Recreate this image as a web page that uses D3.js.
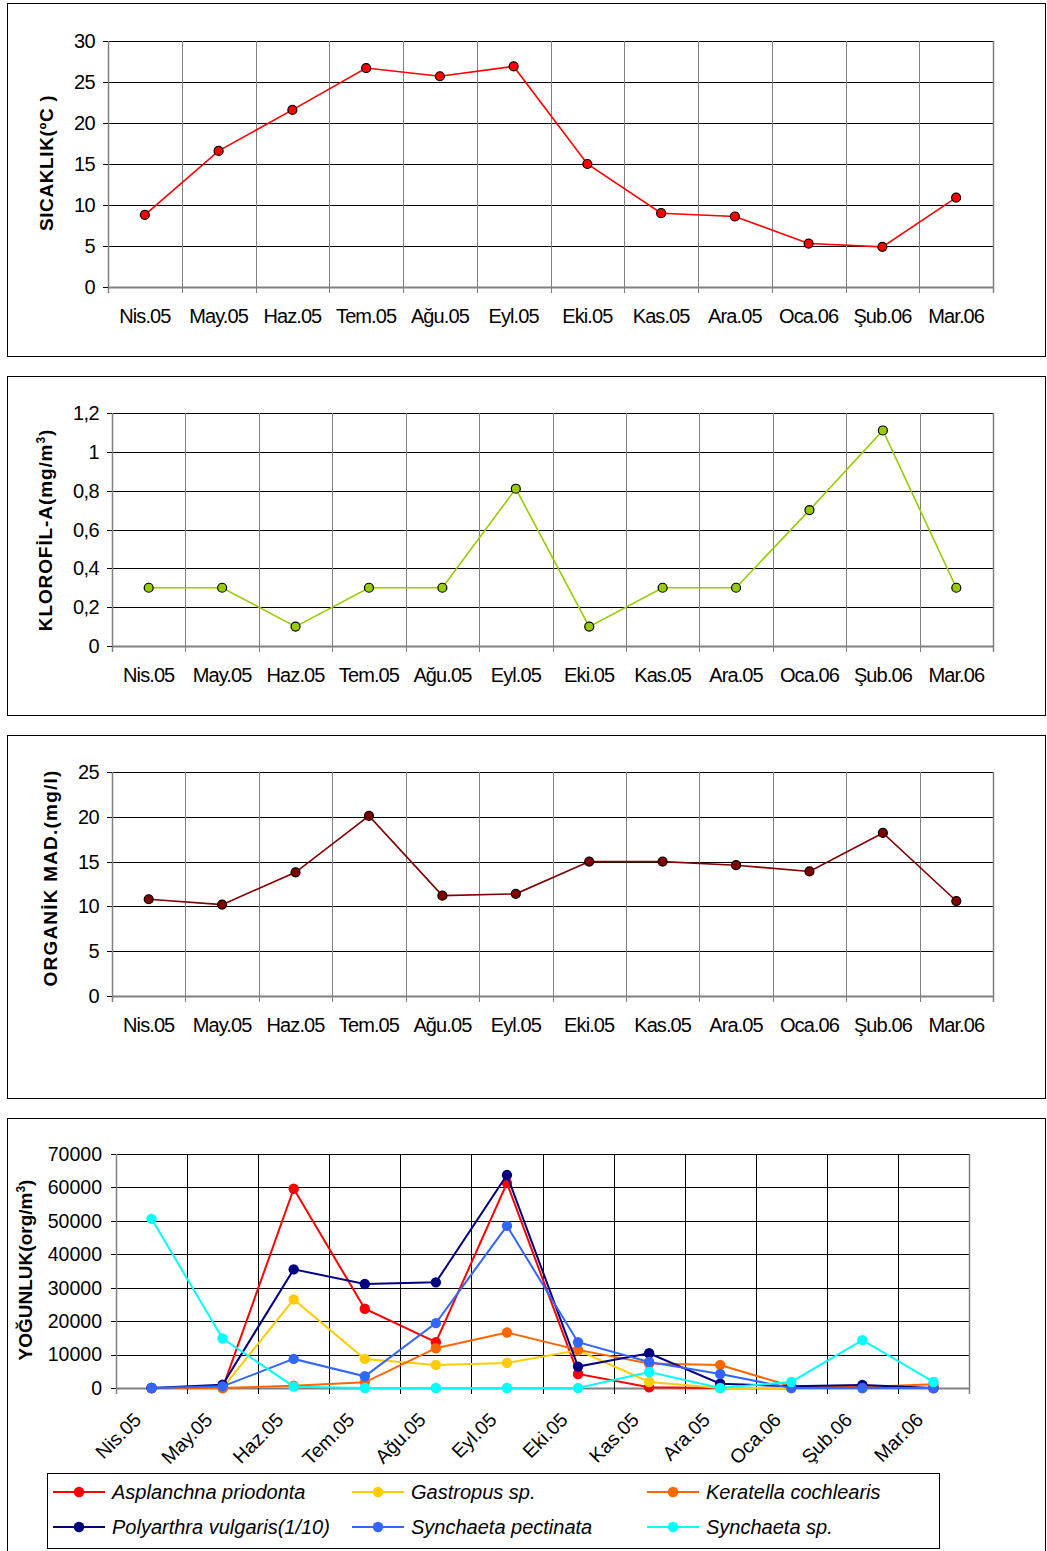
<!DOCTYPE html>
<html>
<head>
<meta charset="utf-8">
<script src="https://cdn.jsdelivr.net/npm/d3@7"></script>
<style>
  body { margin: 0; background: #fff; }
  svg { display: block; font-family: "Liberation Sans", Arial, sans-serif; }
</style>
</head>
<body>
<svg id="chart" width="1047" height="1551"></svg>
<script>
// Monthly water parameters and rotifer densities

const months = ["Nis.05", "May.05", "Haz.05", "Tem.05", "Ağu.05", "Eyl.05",
                "Eki.05", "Kas.05", "Ara.05", "Oca.06", "Şub.06", "Mar.06"];

const sicaklik = [8.8, 16.6, 21.6, 26.7, 25.7, 26.9, 15.0, 9.0, 8.6, 5.3, 4.9, 10.9];
const klorofil = [0.3, 0.3, 0.1, 0.3, 0.3, 0.81, 0.1, 0.3, 0.3, 0.7, 1.11, 0.3];
const organik = [10.8, 10.2, 13.8, 20.1, 11.2, 11.4, 15.0, 15.0, 14.6, 13.9, 18.2, 10.6];

const sicaklikTicks = [0, 5, 10, 15, 20, 25, 30];
const klorofilTicks = [0, 0.2, 0.4, 0.6, 0.8, 1, 1.2];
const organikTicks = [0, 5, 10, 15, 20, 25];
const yogunlukTicks = [0, 10000, 20000, 30000, 40000, 50000, 60000, 70000];

// rotifer densities (org/m3)
const asplanchna = [0, 0, 59600, 23700, 13700, 61300, 4200, 200, 0, 0, 0, 0];
const gastropus = [0, 0, 26500, 8700, 6900, 7500, 11300, 1800, 0, 0, 0, 0];
const keratella = [0, 0, 700, 1700, 11900, 16600, 11400, 7300, 6900, 500, 300, 1100];
const polyarthra = [0, 1000, 35500, 31100, 31600, 63700, 6400, 10400, 1300, 500, 900, 0];
const synPectinata = [0, 500, 8700, 3500, 19400, 48500, 13700, 7800, 4200, 0, 0, 0];
const synSp = [50600, 14800, 400, 0, 0, 0, 0, 4800, 0, 1800, 14300, 1800];

const speciesNames = ["Asplanchna priodonta", "Gastropus sp.", "Keratella cochlearis",
                      "Polyarthra vulgaris(1/10)", "Synchaeta pectinata", "Synchaeta sp."];
const speciesValues = [asplanchna, gastropus, keratella, polyarthra, synPectinata, synSp];
const speciesColors = ["#ff0000", "#ffcc00", "#ff6600", "#000080", "#3366ff", "#00ffff"];

const svg = d3.select("#chart");

function frame(y0, y1) {
    svg.append("rect")
        .attr("x", 7.5).attr("y", y0 + 0.5)
        .attr("width", 1038).attr("height", y1 - y0)
        .attr("fill", "none")
        .attr("stroke", "#000")
        .attr("stroke-width", 1);
}

function drawGrid(g, x, y, ticks, innerW, innerH, vColor) {
    // horizontal grid
    ticks.forEach(t => {
        g.append("line")
            .attr("x1", 0).attr("x2", innerW)
            .attr("y1", Math.round(y(t)) + 0.5).attr("y2", Math.round(y(t)) + 0.5)
            .attr("stroke", t === 0 ? "#808080" : "#000")
            .attr("stroke-width", t === 0 ? 2 : 1);
    });
    // vertical grid at band boundaries
    const bounds = months.map(m => x(m)).concat([innerW]);
    bounds.forEach((b, i) => {
        g.append("line")
            .attr("x1", Math.round(b) + 0.5).attr("x2", Math.round(b) + 0.5)
            .attr("y1", 0).attr("y2", innerH + 6)
            .attr("stroke", (i === 0 || i === bounds.length - 1) ? "#808080" : vColor)
            .attr("stroke-width", (i === 0 || i === bounds.length - 1) ? 1.5 : 1);
    });
    // small left ticks
    ticks.forEach(t => {
        g.append("line")
            .attr("x1", -5).attr("x2", 0)
            .attr("y1", Math.round(y(t)) + 0.5).attr("y2", Math.round(y(t)) + 0.5)
            .attr("stroke", "#000");
    });
}

function simplePanel(opt) {
    frame(opt.frame[0], opt.frame[1]);
    const innerW = opt.right - opt.left;
    const innerH = opt.bottom - opt.top;
    const g = svg.append("g").attr("transform", `translate(${opt.left},${opt.top})`);

    const x = d3.scaleBand().domain(months).range([0, innerW]).padding(0);
    const y = d3.scaleLinear().domain(opt.domain).range([innerH, 0]);

    drawGrid(g, x, y, opt.ticks, innerW, innerH, "#808080");

    g.selectAll(".ytick")
        .data(opt.ticks)
        .join("text")
        .attr("x", -13)
        .attr("y", d => y(d))
        .attr("dy", "0.35em")
        .attr("text-anchor", "end")
        .attr("font-size", "20px")
        .attr("letter-spacing", "-0.6px")
        .attr("fill", "#000")
        .text(opt.fmt);

    g.selectAll(".xtick")
        .data(months)
        .join("text")
        .attr("x", d => x(d) + x.bandwidth() / 2)
        .attr("y", innerH + opt.labelGap)
        .attr("text-anchor", "middle")
        .attr("font-size", "20px")
        .attr("letter-spacing", "-0.9px")
        .attr("fill", "#000")
        .text(d => d);

    const line = d3.line()
        .x((d, i) => x(months[i]) + x.bandwidth() / 2)
        .y(d => y(d));

    g.append("path")
        .datum(opt.values)
        .attr("d", line)
        .attr("fill", "none")
        .attr("stroke", opt.color)
        .attr("stroke-width", 1.6);

    g.selectAll(".pt")
        .data(opt.values)
        .join("circle")
        .attr("cx", (d, i) => x(months[i]) + x.bandwidth() / 2)
        .attr("cy", d => y(d))
        .attr("r", 4.5)
        .attr("fill", opt.color)
        .attr("stroke", "#000")
        .attr("stroke-width", 1.2);

    const lt = svg.append("text")
        .attr("transform", `translate(${opt.titleX},${opt.titleY}) rotate(-90)`)
        .attr("text-anchor", "middle")
        .attr("font-size", "19px")
        .attr("font-weight", "bold")
        .attr("letter-spacing", opt.titleSpacing)
        .attr("fill", "#000");
    opt.title.forEach(p => {
        lt.append("tspan")
            .attr("baseline-shift", p.sup ? "super" : null)
            .attr("font-size", p.sup ? "12px" : null)
            .text(p.t);
    });
}

simplePanel({
    frame: [3, 356], left: 108, right: 993, top: 41, bottom: 287,
    domain: [0, 30], ticks: sicaklikTicks, fmt: d => d,
    values: sicaklik, color: "#ff0000", labelGap: 36,
    title: [{ t: "SICAKLIK(ºC )" }], titleX: 53, titleY: 163, titleSpacing: "0.6px"
});

simplePanel({
    frame: [376, 715], left: 112, right: 993, top: 413, bottom: 646,
    domain: [0, 1.2], ticks: klorofilTicks, fmt: d => String(d).replace(".", ","),
    values: klorofil, color: "#99cc00", labelGap: 36,
    title: [{ t: "KLOROFİL-A(mg/m" }, { t: "3", sup: true }, { t: ")" }],
    titleX: 52, titleY: 530, titleSpacing: "0.9px"
});

simplePanel({
    frame: [735, 1098], left: 112, right: 993, top: 772, bottom: 996,
    domain: [0, 25], ticks: organikTicks, fmt: d => d,
    values: organik, color: "#800000", labelGap: 36,
    title: [{ t: "ORGANİK MAD.(mg/l)" }], titleX: 57, titleY: 878, titleSpacing: "1.2px"
});

// --- Density panel ---
(function densityPanel() {
    svg.append("rect")
        .attr("x", 7.5).attr("y", 1118.5)
        .attr("width", 1038).attr("height", 500)
        .attr("fill", "none")
        .attr("stroke", "#000");

    const left = 116, right = 969, top = 1154, bottom = 1388;
    const innerW = right - left, innerH = bottom - top;
    const g = svg.append("g").attr("transform", `translate(${left},${top})`);

    const x = d3.scaleBand().domain(months).range([0, innerW]).padding(0);
    const y = d3.scaleLinear().domain([0, 70000]).range([innerH, 0]);

    drawGrid(g, x, y, yogunlukTicks, innerW, innerH, "#000");

    g.selectAll(".ytick")
        .data(yogunlukTicks)
        .join("text")
        .attr("x", -14)
        .attr("y", d => y(d))
        .attr("dy", "0.35em")
        .attr("text-anchor", "end")
        .attr("font-size", "19.5px")
        .attr("fill", "#000")
        .text(d => d);

    g.selectAll(".xtick")
        .data(months)
        .join("text")
        .attr("transform", d => `translate(${x(d) + x.bandwidth() / 2 - 9},${innerH + 33}) rotate(-45)`)
        .attr("text-anchor", "end")
        .attr("font-size", "19.5px")
        .attr("fill", "#000")
        .text(d => d);

    const line = d3.line()
        .x((d, i) => x(months[i]) + x.bandwidth() / 2)
        .y(d => y(d));

    speciesValues.forEach((vals, k) => {
        g.append("path")
            .datum(vals)
            .attr("d", line)
            .attr("fill", "none")
            .attr("stroke", speciesColors[k])
            .attr("stroke-width", 2);
        g.selectAll(".pt" + k)
            .data(vals)
            .join("circle")
            .attr("cx", (d, i) => x(months[i]) + x.bandwidth() / 2)
            .attr("cy", d => y(d))
            .attr("r", 5.2)
            .attr("fill", speciesColors[k]);
    });

    svg.append("text")
        .attr("transform", `translate(32,1270) rotate(-90)`)
        .attr("text-anchor", "middle")
        .attr("font-size", "19px")
        .attr("font-weight", "bold")
        .attr("fill", "#000")
        .call(t => {
            t.append("tspan").text("YOĞUNLUK(org/m");
            t.append("tspan").attr("baseline-shift", "super").attr("font-size", "12px").text("3");
            t.append("tspan").text(")");
        });

    // legend
    svg.append("rect")
        .attr("x", 47.5).attr("y", 1473.5)
        .attr("width", 892).attr("height", 75)
        .attr("fill", "#fff")
        .attr("stroke", "#000");

    const colX = [53, 352, 647];
    const rowY = [1492, 1527];
    speciesNames.forEach((name, k) => {
        const lx = colX[k % 3], ly = rowY[Math.floor(k / 3)];
        const lg = svg.append("g").attr("transform", `translate(${lx},${ly})`);
        lg.append("line")
            .attr("x1", 0).attr("x2", 52)
            .attr("y1", 0).attr("y2", 0)
            .attr("stroke", speciesColors[k])
            .attr("stroke-width", 2);
        lg.append("circle")
            .attr("cx", 26).attr("cy", 0).attr("r", 5.2)
            .attr("fill", speciesColors[k]);
        lg.append("text")
            .attr("x", 59).attr("y", 0)
            .attr("dy", "0.36em")
            .attr("font-size", "20px")
            .attr("font-style", "italic")
            .attr("fill", "#000")
            .text(name);
    });
})();
</script>
</body>
</html>
